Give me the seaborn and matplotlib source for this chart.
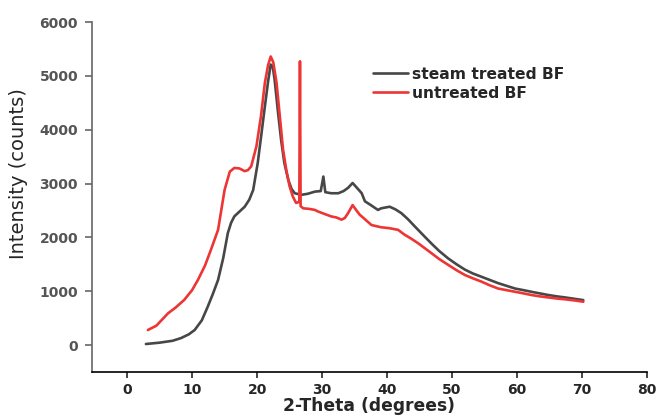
import numpy as np
import pandas as pd
import matplotlib.pyplot as plt
import seaborn as sns

# 2-theta (deg) / intensity (counts)
steam_x = [2.9, 5.0, 7.0, 8.3, 9.5, 10.4, 11.5, 12.4, 13.2, 14.0, 14.8, 15.5, 16.0, 16.5,
           17.3, 18.1, 18.8, 19.4, 20.1, 20.7, 21.2, 21.7, 22.1, 22.4, 22.7, 23.2, 23.7,
           24.2, 24.8, 25.3, 25.8, 26.8, 27.8, 28.9, 29.8, 30.2, 30.5, 31.4, 32.5, 33.3,
           34.0, 34.7, 35.3, 36.1, 36.6, 37.5, 38.6, 39.1, 40.4, 41.3, 42.2, 43.2, 44.3,
           45.5, 46.8, 48.0, 49.4, 50.7, 52.0, 53.2, 54.5, 55.8, 57.1, 58.4, 59.7, 61.0,
           62.2, 63.5, 64.8, 66.1, 67.4, 68.8, 70.2]
steam_y = [20, 45, 80, 130, 200, 280, 460, 710, 950, 1210, 1620, 2080, 2270, 2390,
           2480, 2570, 2700, 2880, 3380, 3950, 4430, 4900, 5210, 5180, 4930, 4350, 3810,
           3380, 3070, 2900, 2820, 2790, 2810, 2850, 2860, 3130, 2840, 2820, 2820, 2860,
           2920, 3010, 2930, 2820, 2670, 2600, 2510, 2540, 2570, 2520, 2450, 2340, 2200,
           2050, 1890, 1750, 1610, 1500, 1400, 1330, 1270, 1210, 1150, 1100, 1050, 1020,
           990, 960, 930, 905, 885, 860, 835]

untreated_x = [3.2, 4.5, 6.3, 7.5, 8.8, 10.0, 10.9, 12.0, 12.9, 14.0, 15.0, 15.8, 16.5,
               17.3, 18.1, 18.6, 19.1, 19.9, 20.6, 21.2, 21.7, 22.1, 22.5, 23.0, 23.5,
               24.0, 24.5, 25.0, 25.5, 26.0, 26.5, 26.6, 26.7, 27.1, 28.0, 28.9, 29.4,
               30.5, 31.4, 32.2, 33.0, 33.5, 34.0, 34.7, 35.3, 35.8, 36.1, 37.6, 39.0,
               40.4, 41.7, 42.7, 43.8, 44.8, 45.8, 46.8, 48.0, 49.4, 50.7, 52.0, 53.2,
               54.5, 55.8, 57.1, 58.4, 59.7, 61.0, 62.2, 63.5, 64.8, 66.1, 67.4, 68.8, 70.2]
untreated_y = [280, 360, 590, 700, 840, 1020, 1210, 1480, 1770, 2140, 2880, 3220, 3290,
               3280, 3230, 3250, 3320, 3690, 4250, 4870, 5200, 5360, 5250, 4870, 4250,
               3630, 3250, 2950, 2760, 2640, 2660, 5270, 2580, 2540, 2530, 2510, 2480,
               2430, 2390, 2370, 2330, 2360, 2450, 2600, 2500, 2420, 2390, 2230, 2190,
               2170, 2140, 2050, 1970, 1890, 1800, 1710, 1600, 1490, 1390, 1300, 1240,
               1180, 1110, 1050, 1020, 990, 960, 930, 905, 885, 865, 850, 830, 805]

labels = ["steam treated BF", "untreated BF"]
colors = ["#474747", "#ee3535"]

df = pd.concat([
    pd.DataFrame({"theta": steam_x, "counts": steam_y, "sample": labels[0]}),
    pd.DataFrame({"theta": untreated_x, "counts": untreated_y, "sample": labels[1]}),
])

sns.set_style("ticks")
plt.rcParams["font.family"] = ["DejaVu Sans"]

fig = plt.figure(figsize=(6.58, 4.17), dpi=100)
ax = fig.add_axes([0.1398, 0.1079, 0.8435, 0.8393])

sns.lineplot(data=df, x="theta", y="counts", hue="sample", palette=colors,
             estimator=None, sort=False, linewidth=1.9, ax=ax)

ax.set_xlim(-5.4, 80)
ax.set_ylim(-500, 6000)
ax.set_xticks(np.arange(0, 81, 10))
ax.set_yticks(np.arange(0, 6001, 1000))

ax.set_xlabel("2-Theta (degrees)", fontsize=12.3, fontweight="bold", labelpad=0)
ax.set_ylabel("Intensity (counts)", fontsize=14)
ax.yaxis.set_label_coords(-0.115, 0.566)

for lab in ax.get_xticklabels():
    lab.set_fontweight("bold")
    lab.set_fontsize(10)
for lab in ax.get_yticklabels():
    lab.set_fontweight("bold")
    lab.set_fontsize(10)
    lab.set_color("#555555")

ax.spines["top"].set_visible(False)
ax.spines["right"].set_visible(False)
ax.spines["left"].set_color("#666666")
ax.spines["left"].set_linewidth(1.2)
ax.spines["bottom"].set_color("black")
ax.spines["bottom"].set_linewidth(1.2)
ax.tick_params(axis="y", colors="#666666", length=5, width=1.2, pad=5,
               labelcolor="#555555")
ax.tick_params(axis="x", length=4, width=1.2, pad=4)

leg = ax.legend(loc="upper left", bbox_to_anchor=(0.506, 0.872), frameon=False,
                borderaxespad=0, borderpad=0,
                handlelength=2.25, handletextpad=0.3, labelspacing=0.25,
                prop={"weight": "bold", "size": 11.2})
for line in leg.get_lines():
    line.set_linewidth(1.9)

fig.savefig("out.png", dpi=100)
